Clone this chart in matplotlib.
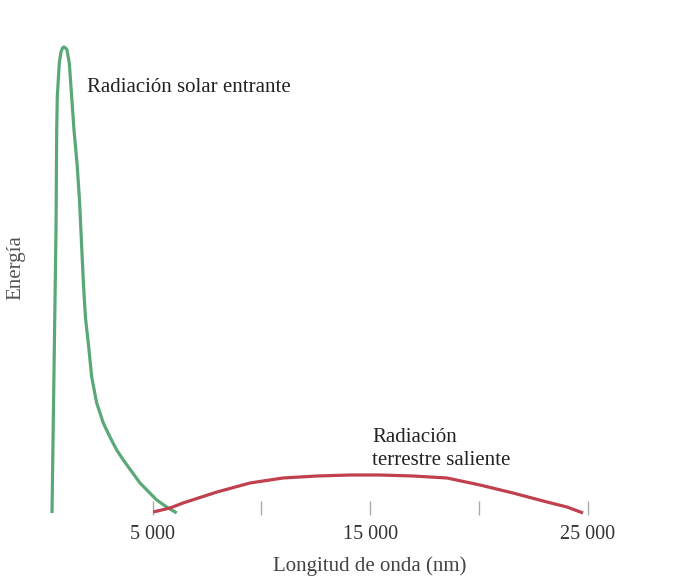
import numpy as np
import matplotlib
matplotlib.use('Agg')
from matplotlib import pyplot as plt

# curvas (longitud de onda en nm, energia en unidades arbitrarias)
solar_x = [368, 428, 552, 584, 611, 703, 782, 850, 920, 990, 1057, 1163, 1274, 1379,
           1517, 1632, 1733, 1816, 1908, 2046, 2193, 2423, 2726, 3034, 3343, 3646,
           4414, 5182, 5641, 6101]
solar_y = [2, 95, 285, 385, 418, 452, 463, 467, 468, 467, 465, 452, 418, 385,
           352, 315, 268, 230, 197, 170, 138, 112, 92, 78, 65, 55,
           32, 15, 8, 2]

terr_x = [5025, 5793, 6391, 7954, 9471, 10989, 12552, 14069, 15448, 16966,
          18529, 20046, 21563, 23126, 24046, 24782]
terr_y = [3, 7, 12, 23, 32, 37, 39, 40, 40, 39, 37, 30, 22, 13, 8, 2]

ticks = [5000, 10000, 15000, 20000, 25000]
tick_labels = ['5 000', '', '15 000', '', '25 000']

plt.rcParams['font.family'] = ['Liberation Serif', 'DejaVu Serif']

fig = plt.figure(figsize=(6.93, 5.83), dpi=100)
ax = fig.add_axes([44/693, 68/583, 638/693, 500/583])
ax.set_xlim(0, 638/0.02175)
ax.set_ylim(0, 500)

ax.plot(solar_x, solar_y, color='#5aa877', lw=2.3, solid_capstyle='butt',
        solid_joinstyle='round', clip_on=False)
ax.plot(terr_x, terr_y, color='#c0404e', lw=2.3, solid_capstyle='butt',
        solid_joinstyle='round', clip_on=False)

for s in ax.spines.values():
    s.set_visible(False)
ax.set_yticks([])
ax.set_xticks(ticks)
ax.set_xticklabels(tick_labels)
ax.tick_params(axis='x', direction='in', length=10, width=1, color='#aaaaaa',
               pad=7, labelsize=14.5, labelcolor='#333333')

fig.text(370/693, 1 - 566/583, 'Longitud de onda (nm)', fontsize=15, color='#444444',
         ha='center', va='center')
fig.text(16/693, 1 - 268/583, 'Energía', fontsize=15, color='#555555',
         ha='center', va='center', rotation=90)

ax.text(1977, 428, 'Radiación solar entrante', fontsize=15, color='#222222', va='center')
ax.text(15080, 66, 'Radiación\nterrestre saliente', fontsize=15, color='#222222',
        va='center', linespacing=1.25)

fig.savefig('out.png', dpi=100)
